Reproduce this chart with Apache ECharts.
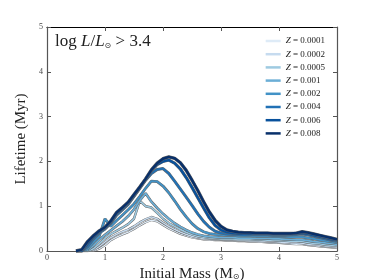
<!DOCTYPE html>
<html><head><meta charset="utf-8">
<script src="https://cdn.jsdelivr.net/npm/echarts@6/dist/echarts.min.js"></script>
<style>html,body{margin:0;padding:0;background:#fff}#c{width:374px;height:280px}</style>
</head><body><div id="c"></div>
<script>
var masses = [0.5,0.6,0.7,0.8,0.9,1.0,1.1,1.2,1.3,1.4,1.5,1.6,1.7,1.8,1.9,2.0,2.1,2.2,2.3,2.4,2.5,2.6,2.7,2.8,2.9,3.0,3.1,3.2,3.3,3.4,3.5,3.6,3.7,3.8,3.9,4.0,4.1,4.2,4.3,4.4,4.5,4.6,4.7,4.8,4.9,5.0];
var zLabels = ["0.0001","0.0002","0.0005","0.001","0.002","0.004","0.006","0.008"];
var zColors = ["#deebf7","#c6dbef","#9ecae1","#6baed6","#4292c6","#2171b5","#08519c","#08306b"];
var lifeZ0001 = [0,0,0,0,0.05,0.13,0.24,0.31,0.37,0.42,0.49,0.57,0.64,0.69,0.66,0.58,0.50,0.44,0.38,0.34,0.30,0.28,0.26,0.25,0.24,0.24,0.23,0.23,0.22,0.22,0.21,0.21,0.20,0.19,0.18,0.18,0.17,0.16,0.15,0.15,0.13,0.12,0.10,0.09,0.08,0.07];
var lifeZ0002 = [0,0,0,0.02,0.10,0.20,0.30,0.37,0.43,0.48,0.55,0.64,0.71,0.76,0.72,0.63,0.55,0.48,0.42,0.37,0.33,0.30,0.28,0.27,0.26,0.26,0.25,0.25,0.24,0.24,0.23,0.23,0.22,0.21,0.21,0.20,0.19,0.18,0.18,0.17,0.15,0.14,0.13,0.11,0.10,0.09];
var lifeZ0005 = [0,0,0,0.05,0.16,0.28,0.38,0.45,0.52,0.60,0.72,1.12,1.00,0.97,0.85,0.72,0.62,0.55,0.48,0.42,0.37,0.33,0.31,0.29,0.28,0.27,0.27,0.27,0.26,0.26,0.26,0.25,0.25,0.24,0.24,0.23,0.23,0.22,0.22,0.21,0.19,0.17,0.16,0.14,0.13,0.12];
var lifeZ001 = [0,0,0.02,0.12,0.25,0.36,0.46,0.56,0.66,0.78,0.93,1.13,1.29,1.10,0.96,0.83,0.72,0.62,0.54,0.47,0.41,0.37,0.34,0.32,0.31,0.30,0.30,0.30,0.29,0.29,0.29,0.28,0.28,0.28,0.27,0.27,0.26,0.26,0.25,0.25,0.23,0.21,0.20,0.18,0.17,0.15];
var lifeZ002 = [0,0,0.05,0.20,0.33,0.72,0.55,0.68,0.80,0.92,1.05,1.22,1.40,1.56,1.55,1.45,1.30,1.12,0.93,0.76,0.61,0.50,0.43,0.39,0.37,0.36,0.35,0.35,0.34,0.34,0.34,0.33,0.33,0.33,0.32,0.32,0.32,0.31,0.31,0.31,0.29,0.27,0.25,0.23,0.21,0.19];
var lifeZ004 = [0,0,0.10,0.27,0.40,0.49,0.62,0.80,0.92,1.04,1.22,1.40,1.58,1.73,1.82,1.84,1.73,1.56,1.38,1.20,1.02,0.83,0.66,0.53,0.44,0.40,0.38,0.37,0.37,0.36,0.36,0.36,0.36,0.36,0.35,0.35,0.35,0.36,0.37,0.38,0.36,0.33,0.30,0.27,0.24,0.22];
var lifeZ006 = [0,0,0.16,0.31,0.43,0.51,0.64,0.84,0.95,1.07,1.24,1.42,1.60,1.79,1.93,2.00,2.03,1.96,1.83,1.64,1.42,1.19,0.96,0.74,0.57,0.47,0.42,0.40,0.39,0.39,0.38,0.38,0.38,0.38,0.38,0.38,0.38,0.38,0.39,0.40,0.38,0.35,0.32,0.29,0.26,0.24];
var lifeZ008 = [0,0.03,0.21,0.34,0.45,0.53,0.67,0.86,0.97,1.09,1.26,1.43,1.61,1.81,1.96,2.06,2.10,2.07,1.97,1.80,1.58,1.35,1.10,0.87,0.68,0.55,0.47,0.44,0.42,0.41,0.41,0.40,0.40,0.40,0.39,0.39,0.39,0.39,0.40,0.43,0.41,0.38,0.35,0.32,0.29,0.26];
var allLife = [lifeZ0001,lifeZ0002,lifeZ0005,lifeZ001,lifeZ002,lifeZ004,lifeZ006,lifeZ008];
var xTicks = [0,1,2,3,4,5];
var yTicks = [0,1,2,3,4,5];

var FONT = "Liberation Serif";
var series = [];
var legendNames = [];
allLife.forEach(function(arr, i){
  var pts = masses.map(function(m, j){ return [m, arr[j]]; });
  var w = 1.2 + i*0.18;
  var name = "Z = " + zLabels[i];
  legendNames.push(name);
  series.push({type:'line', name:'_o'+i, data:pts, showSymbol:false, silent:true,
    lineStyle:{color:'#666', width:w+0.9}, itemStyle:{color:'#666'}});
  series.push({type:'line', name:name, data:pts, showSymbol:false,
    lineStyle:{color:zColors[i], width:w}, itemStyle:{color:zColors[i]}, color:zColors[i]});
});
// dummy series binding the mirrored top/right axes
series.push({type:'line', name:'_frame', xAxisIndex:1, yAxisIndex:1, data:[], silent:true, showSymbol:false});

function axis(extra){
  var a = {
    type:'value', min:0, max:5, interval:1,
    axisLine:{show:true, onZero:false, lineStyle:{color:'#555', width:1.2}},
    axisTick:{show:true, inside:true, length:4, lineStyle:{color:'#555'}},
    splitLine:{show:false}
  };
  for (var k in extra) a[k] = extra[k];
  return a;
}
var chart = echarts.init(document.getElementById('c'), null, {renderer:'canvas'});
chart.setOption({
  animation:false,
  backgroundColor:'#fff',
  grid:{left:47, right:37, top:27, bottom:29, outerBoundsMode:'none', containLabel:false},
  legend:{
    data:legendNames, orient:'vertical', right:44, top:31,
    icon:'rect', itemWidth:15, itemHeight:2.5, itemGap:3.2,
    textStyle:{fontFamily:FONT, fontSize:9, color:'#222', lineHeight:10,
      rich:{i:{fontFamily:FONT, fontStyle:'italic', fontSize:9}, n:{fontFamily:FONT, fontSize:9}}},
    formatter:function(n){ return '{i|Z}{n| = ' + n.slice(4) + '}'; }
  },
  xAxis:[
    axis({position:'bottom', name:'Initial Mass (M{s|⊙})', nameLocation:'middle', nameGap:12,
      nameTextStyle:{fontFamily:FONT, fontSize:15, color:'#222', rich:{s:{fontFamily:'DejaVu Sans', fontSize:8, padding:[5,0,0,0], color:'#222'}}},
      axisLabel:{fontFamily:FONT, fontSize:8, color:'#444', margin:3}}),
    axis({position:'top', axisLine:{show:true, onZero:false, lineStyle:{color:'#000', width:1.2}}, axisLabel:{show:false}})
  ],
  yAxis:[
    axis({position:'left', name:'Lifetime (Myr)', nameLocation:'middle', nameGap:12,
      nameTextStyle:{fontFamily:FONT, fontSize:15, color:'#222'},
      axisLabel:{fontFamily:FONT, fontSize:8, color:'#444', margin:4}}),
    axis({position:'right', axisLabel:{show:false}})
  ],
  graphic:[{type:'text', left:55, top:33, style:{
    text:'{r|log }{i|L}{r|/}{i|L}{s|⊙}{r| > 3.4}',
    rich:{r:{fontFamily:FONT, fontSize:17, fill:'#222'}, i:{fontFamily:FONT, fontStyle:'italic', fontSize:17, fill:'#222'},
      s:{fontFamily:'DejaVu Sans', fontSize:8, fill:'#222', padding:[8,0,0,0]}}
  }}],
  series:series
});
</script></body></html>
